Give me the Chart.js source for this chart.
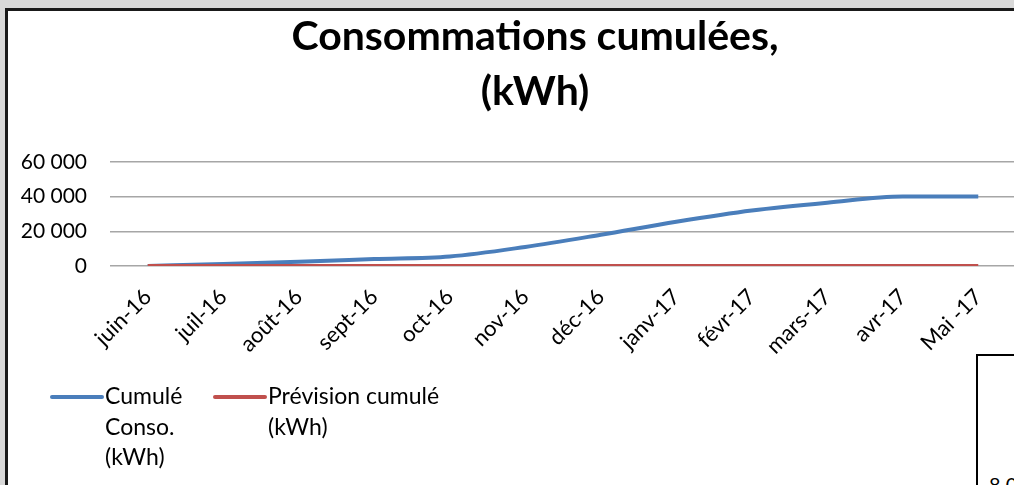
<!DOCTYPE html>
<html lang="fr">
<head>
<meta charset="utf-8">
<title>Consommations cumulées</title>
<script src="https://cdn.jsdelivr.net/npm/chart.js@4"></script>
<style>
  html, body { margin: 0; padding: 0; background: #d9d9d9; overflow: hidden; }
  .frame {
    position: absolute; left: 5px; top: 8px; width: 1100px; height: 600px;
    background: #fff; border: 3px solid #1a1a1a; box-sizing: border-box;
  }
  .chart-box { position: absolute; left: 0; top: 0; width: 1070px; height: 485px; }
  .next-chart {
    position: absolute; left: 976px; top: 354px; width: 120px; height: 200px;
    border: 2px solid #000; background: #fff; box-sizing: border-box;
    font: 20px Lato, sans-serif; color: #000;
  }
  .next-chart span { position: absolute; left: 11px; top: 116px; }
</style>
</head>
<body>
<div class="frame"></div>
<div class="chart-box"><canvas id="cumulChart"></canvas></div>
<div class="next-chart"><span>8 000</span></div>
<script>
// Monthly cumulated consumption, June 2016 to May 2017
const months = ['juin-16', 'juil-16', 'août-16', 'sept-16', 'oct-16', 'nov-16',
                'déc-16', 'janv-17', 'févr-17', 'mars-17', 'avr-17', 'Mai -17'];
const cumulConso = [0, 1200, 2500, 4000, 5500, 11000, 18000, 25500, 32000, 36500, 40000, 40000];
const previsionCumul = [0, 0, 0, 0, 0, 0, 0, 0, 0, 0, 0, 0];
const yTicks = [0, 20000, 40000, 60000];

// legend text, wrapped the way the chart shows it
const legendLines = [['Cumulé', 'Conso.', '(kWh)'], ['Prévision cumulé', '(kWh)']];

const BLUE = '#4a7ebb';
const RED = '#c0504d';

// thousands with a plain space: 60 000
const fmt = v => String(v).replace(/\B(?=(\d{3})+(?!\d))/g, ' ');

// legend drawn under the axis labels, text can span several lines
const wrappedLegend = {
    id: 'wrappedLegend',
    afterDraw(chart) {
        const ctx = chart.ctx;
        const starts = [52, 215];
        const top = 397;
        const lineGap = 30.5;
        ctx.save();
        ctx.font = '23px Lato';
        ctx.textBaseline = 'middle';
        ctx.fillStyle = '#000';
        chart.data.datasets.forEach((ds, i) => {
            const x = starts[i];
            ctx.strokeStyle = ds.borderColor;
            ctx.lineWidth = 4;
            ctx.lineCap = 'round';
            ctx.beginPath();
            ctx.moveTo(x, top);
            ctx.lineTo(x + 50, top);
            ctx.stroke();
            legendLines[i].forEach((txt, k) => {
                ctx.fillText(txt, x + 53, top + k * lineGap);
            });
        });
        ctx.restore();
    }
};

const ctx = document.getElementById('cumulChart').getContext('2d');
new Chart(ctx, {
    type: 'line',
    data: {
        labels: months,
        datasets: [{
            label: legendLines[0].join(' '),
            data: cumulConso,
            borderColor: BLUE,
            borderWidth: 4,
            pointRadius: 0,
            cubicInterpolationMode: 'monotone',
            order: 1
        }, {
            label: legendLines[1].join(' '),
            data: previsionCumul,
            borderColor: RED,
            borderWidth: 4,
            pointRadius: 0,
            cubicInterpolationMode: 'monotone',
            order: 0
        }]
    },
    options: {
        responsive: true,
        maintainAspectRatio: false,
        animation: false,
        layout: {
            padding: { left: 0, right: 0, top: 0, bottom: 129 }
        },
        plugins: {
            legend: { display: false },
            tooltip: { enabled: false },
            title: {
                display: true,
                text: ['Consommations cumulées,', '(kWh)'],
                color: '#000',
                font: { family: 'Lato', size: 41, weight: 'bold', lineHeight: 1.34 },
                padding: { top: 9, bottom: 43 }
            }
        },
        scales: {
            x: {
                offset: true,
                grid: { display: false },
                border: { display: false },
                ticks: {
                    color: '#000',
                    font: { family: 'Lato', size: 22 },
                    maxRotation: 45,
                    minRotation: 45,
                    autoSkip: false,
                    padding: 10
                },
                afterFit: scale => { scale.height = 90; }
            },
            y: {
                min: 0,
                max: 60000,
                border: { display: false },
                grid: { color: '#a6a6a6', lineWidth: 1.5, drawTicks: false },
                ticks: {
                    color: '#000',
                    font: { family: 'Lato', size: 21 },
                    padding: 23,
                    callback: v => fmt(v)
                },
                afterBuildTicks: scale => { scale.ticks = yTicks.map(v => ({ value: v })); },
                afterFit: scale => { scale.width = 110; }
            },
            // empty right-hand margin so the plot stops where the title centring wants it
            yRight: {
                position: 'right',
                min: 0,
                max: 1,
                grid: { display: false },
                border: { display: false },
                ticks: { display: false },
                afterFit: scale => { scale.width = 54; }
            }
        }
    },
    plugins: [wrappedLegend]
});
</script>
</body>
</html>
